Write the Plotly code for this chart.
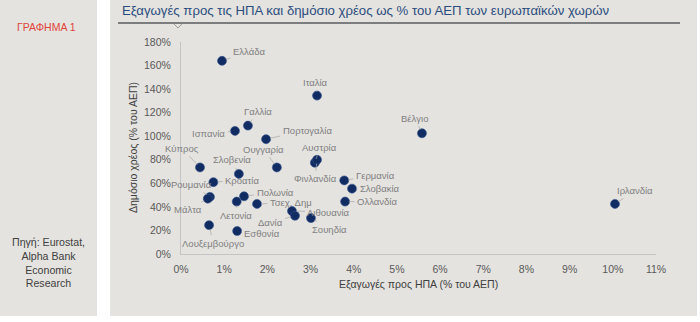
import plotly.graph_objects as go

# Exports to the US and public debt, % of GDP
countries = ["Ελλάδα", "Ιταλία", "Βέλγιο", "Ιρλανδία", "Γαλλία", "Ισπανία",
             "Πορτογαλία", "Κύπρος", "Σλοβενία", "Ουγγαρία", "Αυστρία",
             "Φινλανδία", "Κροατία", "Ρουμανία", "Μάλτα", "Πολωνία", "Λετονία",
             "Τσεχ. Δημ", "Γερμανία", "Σλοβακία", "Ολλανδία", "Λιθουανία",
             "Δανία", "Σουηδία", "Εσθονία", "Λουξεμβούργο"]
exports_us = [0.95, 3.15, 5.58, 10.05, 1.55, 1.25,
              1.97, 0.44, 1.34, 2.22, 3.10,
              3.15, 0.75, 0.67, 0.62, 1.46, 1.29,
              1.76, 3.78, 3.96, 3.80, 2.57,
              2.64, 3.01, 1.30, 0.65]
public_debt = [164.0, 134.5, 102.5, 42.5, 109.0, 104.5,
               97.5, 73.5, 68.0, 73.5, 77.5,
               80.0, 61.0, 48.5, 47.0, 49.0, 44.5,
               42.5, 62.5, 55.5, 44.5, 36.5,
               32.5, 30.5, 19.5, 24.5]

# label offsets (pixels) from each marker
label_dx = [27, -2, -7, 20, 10, -26, 41, -18, -7, -13, 5, -2, 29, -18, -20,
            31, -1, 34, 31, 28, 32, 37, -25, 19, 25, 4]
label_dy = [-9, -13, -15, -13, -14, 3, -9, -19, -14, -18, -15, 19, -2, -12, 11,
            -4, 14, -1, -5, 0, 0, 1, 7, 11, 2, 18]

W, H = 700, 322
ML, MR, MT, MB = 181, 44, 42, 68
PW, PH = W - ML - MR, H - MT - MB


def px(x):
    return (x - ML) / PW


def py(y):
    return (H - MB - y) / PH


FONT = "Liberation Sans, Arial, sans-serif"
PANEL = "#e4e3df"

fig = go.Figure()
fig.add_trace(go.Scatter(
    x=exports_us, y=public_debt, mode="markers",
    marker=dict(size=9, color="#112c63", line=dict(width=0.6, color="#34518a")),
    hoverinfo="skip", showlegend=False,
))

annotations = []
for name, xv, yv, dx, dy in zip(countries, exports_us, public_debt, label_dx, label_dy):
    annotations.append(dict(
        x=xv, y=yv, xref="x", yref="y", text=name, showarrow=True,
        arrowhead=0, arrowwidth=0.7, arrowcolor="#a6a6a6", ax=dx, ay=dy,
        standoff=4, startstandoff=1,
        font=dict(family=FONT, size=9.5, color="#7f7f7f"),
    ))

# chart heading, figure tag and source
annotations += [
    dict(x=px(120), y=py(10), xref="paper", yref="paper", xanchor="left", yanchor="middle",
         text="Εξαγωγές προς τις ΗΠΑ και δημόσιο χρέος ως % του ΑΕΠ των ευρωπαϊκών χωρών",
         showarrow=False, font=dict(family=FONT, size=13.2, color="#2b4d7e")),
    dict(x=px(46), y=py(27), xref="paper", yref="paper", xanchor="center", yanchor="middle",
         text="ΓΡΑΦΗΜΑ 1", showarrow=False, font=dict(family=FONT, size=10.5, color="#e0453a")),
    dict(x=px(48), y=py(262), xref="paper", yref="paper", xanchor="center", yanchor="middle",
         text="Πηγή: Eurostat,<br>Alpha Bank<br>Economic<br>Research", showarrow=False,
         align="center", font=dict(family=FONT, size=10.6, color="#404040")),
    dict(x=px(133), y=0.5, xref="paper", yref="paper", xanchor="center", yanchor="middle",
         text="Δημόσιο χρέος (% του ΑΕΠ)", textangle=-90, showarrow=False,
         font=dict(family=FONT, size=10.5, color="#404040")),
    dict(x=0.5, y=py(284), xref="paper", yref="paper", xanchor="center", yanchor="middle",
         text="Εξαγωγές προς ΗΠΑ (% του ΑΕΠ)", showarrow=False,
         font=dict(family=FONT, size=10.5, color="#404040")),
]

shapes = [
    dict(type="rect", xref="paper", yref="paper", x0=px(0), x1=px(97), y0=py(316), y1=py(0),
         fillcolor=PANEL, line=dict(width=0), layer="below"),
    dict(type="rect", xref="paper", yref="paper", x0=px(110), x1=px(697), y0=py(316), y1=py(0),
         fillcolor=PANEL, line=dict(width=0), layer="below"),
    dict(type="line", xref="paper", yref="paper", x0=px(118), x1=px(680), y0=py(23), y1=py(23),
         line=dict(color="#7b7d7f", width=2)),
    dict(type="path", xref="paper", yref="paper",
         path=f"M {px(174)} {py(24)} L {px(178)} {py(28)} L {px(182)} {py(24)}",
         line=dict(color="#9a9c9e", width=1)),
]

fig.update_layout(
    width=W, height=H, margin=dict(l=ML, r=MR, t=MT, b=MB),
    paper_bgcolor="white", plot_bgcolor="rgba(0,0,0,0)",
    font=dict(family=FONT),
    xaxis=dict(range=[0, 11], dtick=1, ticksuffix="%", showgrid=False, zeroline=False,
               showline=True, linecolor="#c4c4c4", linewidth=1, ticks="",
               ticklabelstandoff=5,
               tickfont=dict(family=FONT, size=10.5, color="#595959")),
    yaxis=dict(range=[0, 180], dtick=20, ticksuffix="%", showgrid=False, zeroline=False,
               showline=True, linecolor="#c4c4c4", linewidth=1, ticks="",
               ticklabelstandoff=7,
               tickfont=dict(family=FONT, size=10.5, color="#595959")),
    annotations=annotations, shapes=shapes,
)

fig.write_html("out.html")
